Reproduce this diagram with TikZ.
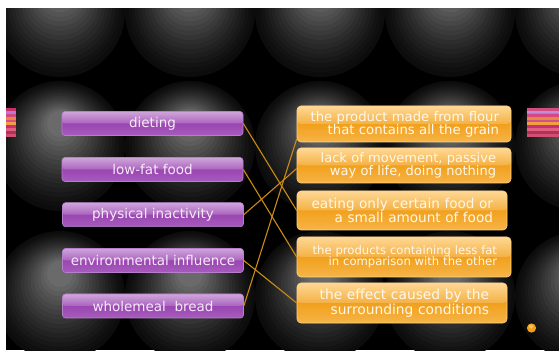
\documentclass[tikz,border=0pt]{standalone}
\usepackage{fontspec}
\setmainfont{DejaVu Sans}
\usetikzlibrary{calc}
\definecolor{sphA}{HTML}{6A6A6A}
\definecolor{sphE}{HTML}{0C0C0C}
\definecolor{ptop}{HTML}{C795D6}
\definecolor{pmid}{HTML}{9A46B1}
\definecolor{pbot}{HTML}{A75CBE}
\definecolor{pborder}{HTML}{B77FCB}
\definecolor{ptext}{HTML}{F6EAF8}
\definecolor{otop}{HTML}{FFD07E}
\definecolor{omid}{HTML}{F2A01C}
\definecolor{obot}{HTML}{F6B448}
\definecolor{oborder}{HTML}{FFD48A}
\definecolor{otext}{HTML}{FFF8EA}
\definecolor{wire}{HTML}{CC8C14}
\definecolor{sA}{HTML}{C8306A}
\definecolor{sB}{HTML}{B878D8}
\definecolor{sC}{HTML}{D84880}
\definecolor{sD}{HTML}{E8883A}
\definecolor{sE}{HTML}{D05090}
\definecolor{sF}{HTML}{F0A040}
\definecolor{sG}{HTML}{C83070}
\definecolor{sH}{HTML}{E06080}
\definecolor{sI}{HTML}{B03060}
\definecolor{sJ}{HTML}{D05070}
\tikzset{
  pbtn/.style={rounded corners=3pt, minimum width=181pt, minimum height=24pt, inner sep=0pt,
    draw=pborder, line width=0.6pt, top color=ptop, bottom color=pbot, middle color=pmid,
    text=ptext, font=\fontsize{13.5}{14}\selectfont,
    path picture={\fill[white,opacity=0.16] (path picture bounding box.north west) rectangle (path picture bounding box.east);}},
  obox/.style={rounded corners=4pt, inner ysep=0pt, align=right,
    draw=oborder, line width=0.6pt, top color=otop, bottom color=obot, middle color=omid,
    text=otext,
    path picture={\fill[white,opacity=0.18] (path picture bounding box.north west) rectangle (path picture bounding box.east);}},
  wireline/.style={draw=wire, line width=1.1pt},
}
\begin{document}
\begin{tikzpicture}[x=1pt,y=-1pt]
\useasboundingbox (0,0) rectangle (559,352);
\fill[white] (0,0) rectangle (559,352);
\fill[black] (6,9) rectangle (559,350);
\begin{scope}
  \clip (6,9) rectangle (559,350);
  \foreach \cy in {12,146,296}{
    \foreach \cx in {60,190,320,450,580}{
      \foreach \k [evaluate=\k as \t using \k/16, evaluate=\k as \p using 100*(\k/16)^1.25] in {0,...,16}{
        \fill[sphA!\p!sphE] (\cx,{\cy-22*\t}) circle ({65*(1-0.8*\t)});
      }
    }
  }
\end{scope}
% stripes
\foreach \c [count=\i from 0] in {sA,sB,sC,sD,sE,sF,sG,sH,sI,sJ}{
  \fill[\c] (6,108+\i*2.9) rectangle (16,108+\i*2.9+2.9);
  \fill[\c] (527,108+\i*2.9) rectangle (559,108+\i*2.9+2.9);
}
\fill[white,opacity=0.15] (527,108) rectangle (559,113);
\fill[omid] (531.5,328) circle (4.6);
\fill[otop,opacity=0.7] (531,326.5) circle (2);
% left buttons
\node[pbtn] (diet) at (152.5,123.5) {dieting};
\node[pbtn] (lowfat) at (152.5,169.5) {low-fat food};
\node[pbtn] (phys) at (153,214.7) {physical inactivity};
\node[pbtn] (env) at (153,260.5) {environmental influence};
\node[pbtn] (whole) at (153,306) {wholemeal\ \ bread};
% right boxes
\node[obox, inner xsep=12pt, text width=190pt, minimum height=36pt, font=\fontsize{13.2}{13}\selectfont] (b1) at (404,124)
  {the product made from flour\\that contains all the grain};
\node[obox, inner xsep=15pt, text width=184pt, minimum height=35pt, font=\fontsize{13}{12.5}\selectfont] (b2) at (404,165.5)
  {lack of movement, passive\\way of life, doing nothing};
\node[obox, inner xsep=14pt, text width=182pt, minimum height=39pt, font=\fontsize{13.6}{14}\selectfont] (b3) at (402,210.5)
  {eating only certain food or\\a small amount of food};
\node[obox, inner xsep=14pt, text width=186pt, minimum height=40pt, font=\fontsize{11.6}{11.5}\selectfont] (b4) at (404,257)
  {the products containing less fat\\in comparison with the other};
\node[obox, inner xsep=18pt, text width=174pt, minimum height=40pt, font=\fontsize{13.8}{15}\selectfont] (b5) at (402,303)
  {the effect caused by the\\surrounding conditions};
% connectors
\draw[wireline] (diet.east) -- (b3.west);
\draw[wireline] (lowfat.east) -- (b4.west);
\draw[wireline] (phys.east) -- ([yshift=-3pt]b2.west);
\draw[wireline] (env.east) -- (b5.west);
\draw[wireline] (whole.east) -- ([yshift=-15pt]b1.west);
\end{tikzpicture}
\end{document}
